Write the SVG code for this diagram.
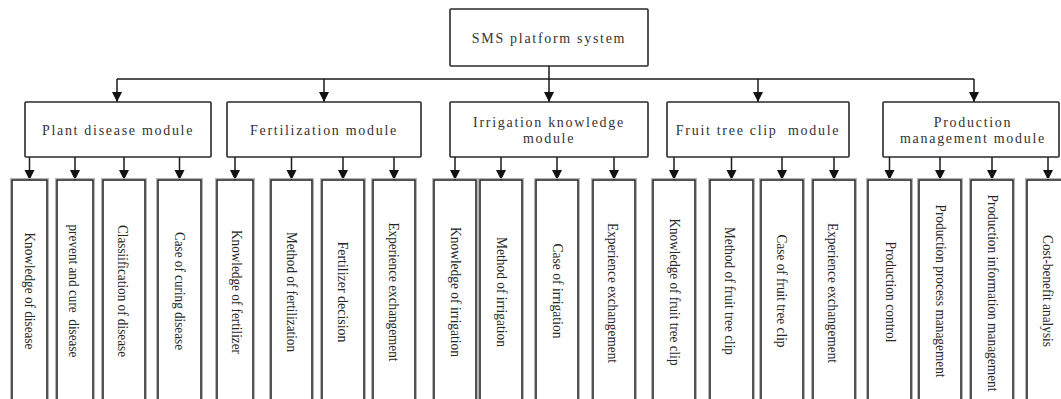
<svg xmlns="http://www.w3.org/2000/svg" width="1061" height="399" viewBox="0 0 1061 399">
  <defs>
    <marker id="arrow" viewBox="0 0 10 12" refX="10" refY="5" markerWidth="10" markerHeight="12" markerUnits="userSpaceOnUse" orient="auto">
      <path d="M0,0 L10,5 L0,10 Z" fill="#111"/>
    </marker>
    <style>
      .box { fill: #fff; stroke: #2a2a2a; stroke-width: 1.6; }
      .leaf { fill: #fff; stroke: #2a2a2a; stroke-width: 1.6; }
      .halo { fill: none; stroke: #b4b4b4; stroke-width: 1; }
      .title { font-family: "Liberation Serif", "Times New Roman", serif; font-size: 14px; letter-spacing: 1.7px; fill: #333; text-anchor: middle; dominant-baseline: central; }
      .label { font-family: "Liberation Serif", "Times New Roman", serif; font-size: 14.5px; fill: #262626; text-anchor: middle; dominant-baseline: central; }
      .long { font-size: 13.8px; }
      .wire { fill: none; stroke: #1a1a1a; stroke-width: 1.5; }
      .arr { fill: none; stroke: #1a1a1a; stroke-width: 1.5; marker-end: url(#arrow); }
    </style>
  </defs>
  <rect width="1061" height="399" fill="#fff"/>

  <!-- connectors -->
  <g id="connectors">
    <!-- root to module bus -->
    <path class="wire" d="M117,79 H974"/>
    <path class="arr" d="M549,66 V102"/>
    <path class="arr" d="M117,79 V102"/>
    <path class="arr" d="M324,79 V102"/>
    <path class="arr" d="M758,79 V102"/>
    <path class="arr" d="M974,79 V102"/>
    <!-- module to leaf arrows -->
    <path class="arr" d="M29.5,157 V180"/>
    <path class="arr" d="M75,157 V180"/>
    <path class="arr" d="M124,157 V180"/>
    <path class="arr" d="M179.5,157 V180"/>
    <path class="arr" d="M235,157 V180"/>
    <path class="arr" d="M291.5,157 V180"/>
    <path class="arr" d="M343,157 V180"/>
    <path class="arr" d="M394,157 V180"/>
    <path class="arr" d="M455,157 V180"/>
    <path class="arr" d="M501,157 V180"/>
    <path class="arr" d="M557,157 V180"/>
    <path class="arr" d="M614,157 V180"/>
    <path class="arr" d="M674,157 V180"/>
    <path class="arr" d="M731.5,157 V180"/>
    <path class="arr" d="M782,157 V180"/>
    <path class="arr" d="M834,157 V180"/>
    <path class="arr" d="M889.5,157 V180"/>
    <path class="arr" d="M940,157 V180"/>
    <path class="arr" d="M992,157 V180"/>
    <path class="arr" d="M1048,157 V180"/>
  </g>

  <!-- root -->
  <g id="root">
    <rect class="box" x="450" y="9" width="198" height="57" rx="1"/>
    <text class="title" x="549" y="38">SMS platform system</text>
  </g>

  <!-- modules -->
  <g id="mod-plant">
    <rect class="box" x="25" y="102" width="186" height="55" rx="1"/>
    <text class="title" x="118" y="130">Plant disease module</text>
  </g>
  <g id="mod-fert">
    <rect class="box" x="227" y="102" width="194" height="55" rx="1"/>
    <text class="title" x="324" y="130">Fertilization module</text>
  </g>
  <g id="mod-irr">
    <rect class="box" x="450" y="102" width="198" height="55" rx="1"/>
    <text class="title" x="549" y="122">Irrigation knowledge</text>
    <text class="title" x="549" y="138">module</text>
  </g>
  <g id="mod-fruit">
    <rect class="box" x="667" y="102" width="182" height="55" rx="1"/>
    <text class="title" x="758" y="130" xml:space="preserve">Fruit tree clip  module</text>
  </g>
  <g id="mod-prod">
    <rect class="box" x="883" y="102" width="176" height="55" rx="1"/>
    <text class="title" x="973" y="122">Production</text>
    <text class="title" x="973" y="138">management module</text>
  </g>

  <!-- leaves: plant disease -->
  <g id="leaf-1"><rect class="halo" x="10.5" y="178.5" width="38" height="230"/><rect class="leaf" x="12" y="180" width="35" height="226"/><text class="label" transform="translate(30,291) rotate(90)" textLength="117" lengthAdjust="spacingAndGlyphs">Knowledge of disease</text></g>
  <g id="leaf-2"><rect class="halo" x="55.5" y="178.5" width="39" height="230"/><rect class="leaf" x="57" y="180" width="36" height="226"/><text class="label" transform="translate(74,291) rotate(90)" textLength="133" lengthAdjust="spacingAndGlyphs" xml:space="preserve">prevent and cure  disease</text></g>
  <g id="leaf-3"><rect class="halo" x="101.5" y="178.5" width="45" height="230"/><rect class="leaf" x="103" y="180" width="42" height="226"/><text class="label" transform="translate(123,291) rotate(90)" textLength="132" lengthAdjust="spacingAndGlyphs">Classiification of disease</text></g>
  <g id="leaf-4"><rect class="halo" x="156.5" y="178.5" width="46" height="230"/><rect class="leaf" x="158" y="180" width="43" height="226"/><text class="label" transform="translate(180,291) rotate(90)" textLength="118" lengthAdjust="spacingAndGlyphs">Case of curing disease</text></g>

  <!-- leaves: fertilization -->
  <g id="leaf-5"><rect class="halo" x="215.5" y="178.5" width="39" height="230"/><rect class="leaf" x="217" y="180" width="36" height="226"/><text class="label" transform="translate(237,292) rotate(90)" textLength="124" lengthAdjust="spacingAndGlyphs">Knowledge of fertilizer</text></g>
  <g id="leaf-6"><rect class="halo" x="269.5" y="178.5" width="44" height="230"/><rect class="leaf" x="271" y="180" width="41" height="226"/><text class="label" transform="translate(292,292) rotate(90)" textLength="120" lengthAdjust="spacingAndGlyphs">Method of fertilization</text></g>
  <g id="leaf-7"><rect class="halo" x="320.5" y="178.5" width="45" height="230"/><rect class="leaf" x="322" y="180" width="42" height="226"/><text class="label" transform="translate(343,292) rotate(90)" textLength="101" lengthAdjust="spacingAndGlyphs">Fertilizer decision</text></g>
  <g id="leaf-8"><rect class="halo" x="371.5" y="178.5" width="45" height="230"/><rect class="leaf" x="373" y="180" width="42" height="226"/><text class="label" transform="translate(394,292) rotate(90)" textLength="139" lengthAdjust="spacingAndGlyphs">Experience exchangement</text></g>

  <!-- leaves: irrigation -->
  <g id="leaf-9"><rect class="halo" x="432.5" y="178.5" width="45" height="230"/><rect class="leaf" x="434" y="180" width="42" height="226"/><text class="label" transform="translate(456,292) rotate(90)" textLength="130" lengthAdjust="spacingAndGlyphs">Knowledge of irrigation</text></g>
  <g id="leaf-10"><rect class="halo" x="478.5" y="178.5" width="45" height="230"/><rect class="leaf" x="480" y="180" width="42" height="226"/><text class="label" transform="translate(502,292) rotate(90)" textLength="110" lengthAdjust="spacingAndGlyphs">Method of irrigation</text></g>
  <g id="leaf-11"><rect class="halo" x="534.5" y="178.5" width="45" height="230"/><rect class="leaf" x="536" y="180" width="42" height="226"/><text class="label" transform="translate(558,291) rotate(90)" textLength="95" lengthAdjust="spacingAndGlyphs">Case of irrigation</text></g>
  <g id="leaf-12"><rect class="halo" x="591.5" y="178.5" width="45" height="230"/><rect class="leaf" x="593" y="180" width="42" height="226"/><text class="label" transform="translate(613,293) rotate(90)" textLength="140" lengthAdjust="spacingAndGlyphs">Experience exchangement</text></g>

  <!-- leaves: fruit tree clip -->
  <g id="leaf-13"><rect class="halo" x="651.5" y="178.5" width="45" height="230"/><rect class="leaf" x="653" y="180" width="42" height="226"/><text class="label" transform="translate(675,292) rotate(90)" textLength="147" lengthAdjust="spacingAndGlyphs">Knowledge of fruit tree clip</text></g>
  <g id="leaf-14"><rect class="halo" x="708.5" y="178.5" width="46" height="230"/><rect class="leaf" x="710" y="180" width="43" height="226"/><text class="label" transform="translate(730,291) rotate(90)" textLength="128" lengthAdjust="spacingAndGlyphs">Method of fruit tree clip</text></g>
  <g id="leaf-15"><rect class="halo" x="759.5" y="178.5" width="45" height="230"/><rect class="leaf" x="761" y="180" width="42" height="226"/><text class="label" transform="translate(782,291) rotate(90)" textLength="113" lengthAdjust="spacingAndGlyphs">Case of fruit tree clip</text></g>
  <g id="leaf-16"><rect class="halo" x="811.5" y="178.5" width="45" height="230"/><rect class="leaf" x="813" y="180" width="42" height="226"/><text class="label" transform="translate(833,293) rotate(90)" textLength="140" lengthAdjust="spacingAndGlyphs">Experience exchangement</text></g>

  <!-- leaves: production management -->
  <g id="leaf-17"><rect class="halo" x="866.5" y="178.5" width="46" height="230"/><rect class="leaf" x="868" y="180" width="43" height="226"/><text class="label" transform="translate(891,292) rotate(90)" textLength="101" lengthAdjust="spacingAndGlyphs">Production control</text></g>
  <g id="leaf-18"><rect class="halo" x="917.5" y="178.5" width="45" height="230"/><rect class="leaf" x="919" y="180" width="42" height="226"/><text class="label long" transform="translate(940,291) rotate(90)" textLength="173" lengthAdjust="spacingAndGlyphs">Production process management</text></g>
  <g id="leaf-19"><rect class="halo" x="969.5" y="178.5" width="45" height="230"/><rect class="leaf" x="971" y="180" width="42" height="226"/><text class="label long" transform="translate(992,293) rotate(90)" textLength="197" lengthAdjust="spacingAndGlyphs">Production information management</text></g>
  <g id="leaf-20"><rect class="halo" x="1025.5" y="178.5" width="49" height="230"/><rect class="leaf" x="1027" y="180" width="46" height="226"/><text class="label" transform="translate(1048,291) rotate(90)" textLength="112" lengthAdjust="spacingAndGlyphs">Cost-benefit analysis</text></g>
</svg>
